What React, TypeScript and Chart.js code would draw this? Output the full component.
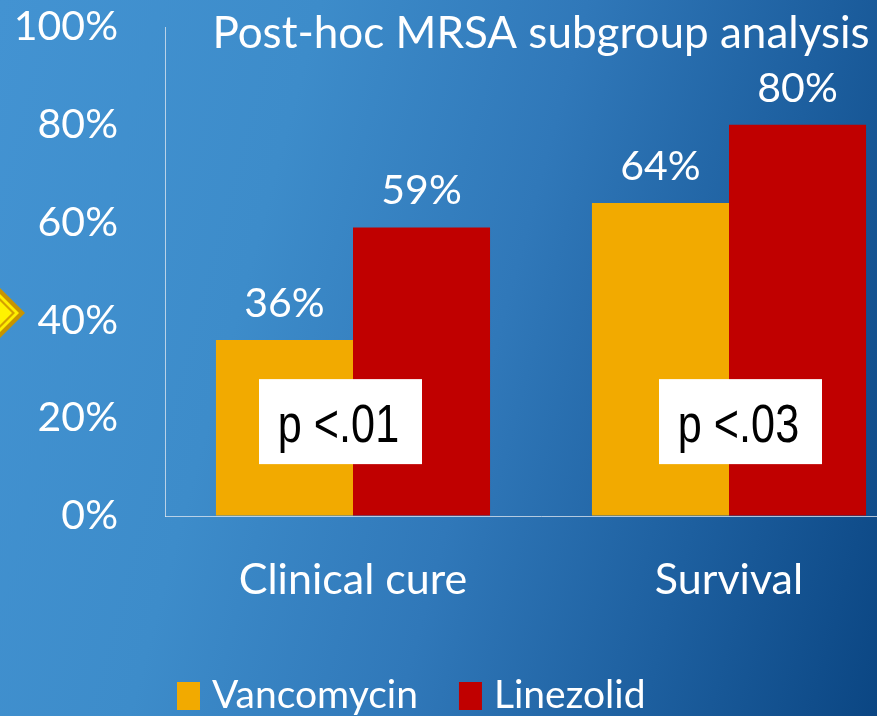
import React, { useEffect, useRef } from 'react';
import { Chart, registerables } from 'chart.js';

Chart.register(...registerables);

const categories = ['Clinical cure', 'Survival'];
const seriesNames = ['Vancomycin', 'Linezolid'];
const vancomycin = [36, 64];
const linezolid = [59, 80];
const pValues = ['p <.01', 'p <.03'];
const pBoxLevel = [19.3, 19.3];
const yTickValues = [0, 20, 40, 60, 80, 100];
const chartTitle = 'Post-hoc MRSA subgroup analysis';
const seriesColors = ['#F2AA00', '#C00000'];

const FONT = 'Lato, "Open Sans", sans-serif';
const CANVAS_W = 960;
const CANVAS_H = 716;

const overlayPlugin = {
  id: 'overlay',
  afterDatasetsDraw(chart: any) {
    const ctx = chart.ctx as CanvasRenderingContext2D;
    const area = chart.chartArea;
    const xs = chart.scales.x;
    const ys = chart.scales.y;
    ctx.save();

    // value labels above bars
    ctx.fillStyle = '#ffffff';
    ctx.font = `41px ${FONT}`;
    ctx.textAlign = 'center';
    ctx.textBaseline = 'alphabetic';
    chart.data.datasets.forEach((ds: any, di: number) => {
      chart.getDatasetMeta(di).data.forEach((bar: any, i: number) => {
        ctx.fillText(ds.data[i] + '%', bar.x, bar.y - 23);
      });
    });

    // p-value boxes
    const boxOffsets = [-12.5, 11.5];
    pValues.forEach((p, i) => {
      const cx = xs.getPixelForValue(i) + boxOffsets[i];
      const cy = ys.getPixelForValue(pBoxLevel[i]);
      ctx.fillStyle = '#ffffff';
      ctx.fillRect(cx - 81.5, cy - 42.5, 163, 85);
      ctx.save();
      ctx.translate(cx - 2, cy + 20);
      ctx.scale(0.8, 1);
      ctx.fillStyle = '#000000';
      ctx.font = '54px "Liberation Sans", Arial, sans-serif';
      ctx.textAlign = 'center';
      ctx.textBaseline = 'alphabetic';
      ctx.fillText(p, 0, 0);
      ctx.restore();
    });

    // title
    ctx.fillStyle = '#ffffff';
    ctx.font = `44px ${FONT}`;
    ctx.textAlign = 'center';
    ctx.textBaseline = 'alphabetic';
    ctx.fillText(chartTitle, (area.left + area.right) / 2, 48);

    // legend
    ctx.font = `39px ${FONT}`;
    ctx.textAlign = 'left';
    let lx = 177;
    seriesNames.forEach((name, i) => {
      ctx.fillStyle = seriesColors[i];
      ctx.fillRect(lx, 682, 23, 28);
      ctx.fillStyle = '#ffffff';
      ctx.fillText(name, lx + 35, 708);
      lx += 35 + ctx.measureText(name).width + 41;
    });

    // decorative diamond at left edge
    const dx = 0, dy = 313;
    const diamond = (r: number, color: string) => {
      ctx.beginPath();
      ctx.moveTo(dx + r, dy);
      ctx.lineTo(dx, dy + r);
      ctx.lineTo(dx - r, dy);
      ctx.lineTo(dx, dy - r);
      ctx.closePath();
      ctx.fillStyle = color;
      ctx.fill();
    };
    diamond(25, '#C89400');
    diamond(19, '#FFEE00');
    diamond(15, '#D4A000');
    diamond(12, '#FFF200');

    ctx.restore();
  },
};

export default function App() {
  const canvasRef = useRef<HTMLCanvasElement | null>(null);

  useEffect(() => {
    const canvas = canvasRef.current;
    if (!canvas) return;
    const chart = new Chart(canvas, {
      type: 'bar',
      data: {
        labels: categories,
        datasets: [
          {
            label: seriesNames[0],
            data: vancomycin,
            backgroundColor: seriesColors[0],
            borderWidth: 0,
            barPercentage: 1,
            categoryPercentage: 0.729,
          },
          {
            label: seriesNames[1],
            data: linezolid,
            backgroundColor: seriesColors[1],
            borderWidth: 0,
            barPercentage: 1,
            categoryPercentage: 0.729,
          },
        ],
      },
      options: {
        responsive: false,
        animation: false,
        devicePixelRatio: 1,
        layout: { padding: { left: 0, top: 27, right: CANVAS_W - 917, bottom: 0 } },
        plugins: {
          legend: { display: false },
          tooltip: { enabled: false },
          title: { display: false },
        },
        scales: {
          x: {
            type: 'category',
            offset: true,
            grid: { color: 'transparent', drawTicks: false },
            border: { display: true, color: 'rgba(225,232,240,0.75)', width: 1 },
            ticks: {
              color: '#ffffff',
              font: { family: FONT, size: 43 },
              padding: 38,
              maxRotation: 0,
              autoSkip: false,
            },
            afterFit(scale: any) {
              scale.height = 200;
              scale.paddingLeft = 0;
              scale.paddingRight = 0;
            },
          },
          y: {
            min: 0,
            max: 100,
            afterBuildTicks(scale: any) {
              scale.ticks = yTickValues.map((v) => ({ value: v }));
            },
            grid: { color: 'transparent', drawTicks: false },
            border: { display: true, color: 'rgba(225,232,240,0.75)', width: 1 },
            ticks: {
              color: '#ffffff',
              font: { family: FONT, size: 41 },
              padding: 47,
              callback: (v: any) => v + '%',
            },
            afterFit(scale: any) {
              scale.width = 165;
              scale.paddingTop = 0;
              scale.paddingBottom = 0;
            },
          },
        },
      },
      plugins: [overlayPlugin],
    });
    return () => chart.destroy();
  }, []);

  return (
    <div
      style={{
        position: 'fixed',
        left: 0,
        top: 0,
        width: 877,
        height: 716,
        overflow: 'hidden',
        background:
          'linear-gradient(105deg, #4393d2 0%, #3d8cca 30%, #3078b9 55%, #1d5f9f 78%, #0b4683 100%)',
      }}
    >
      <canvas
        ref={canvasRef}
        width={CANVAS_W}
        height={CANVAS_H}
        style={{ display: 'block', width: CANVAS_W, height: CANVAS_H }}
      />
    </div>
  );
}
